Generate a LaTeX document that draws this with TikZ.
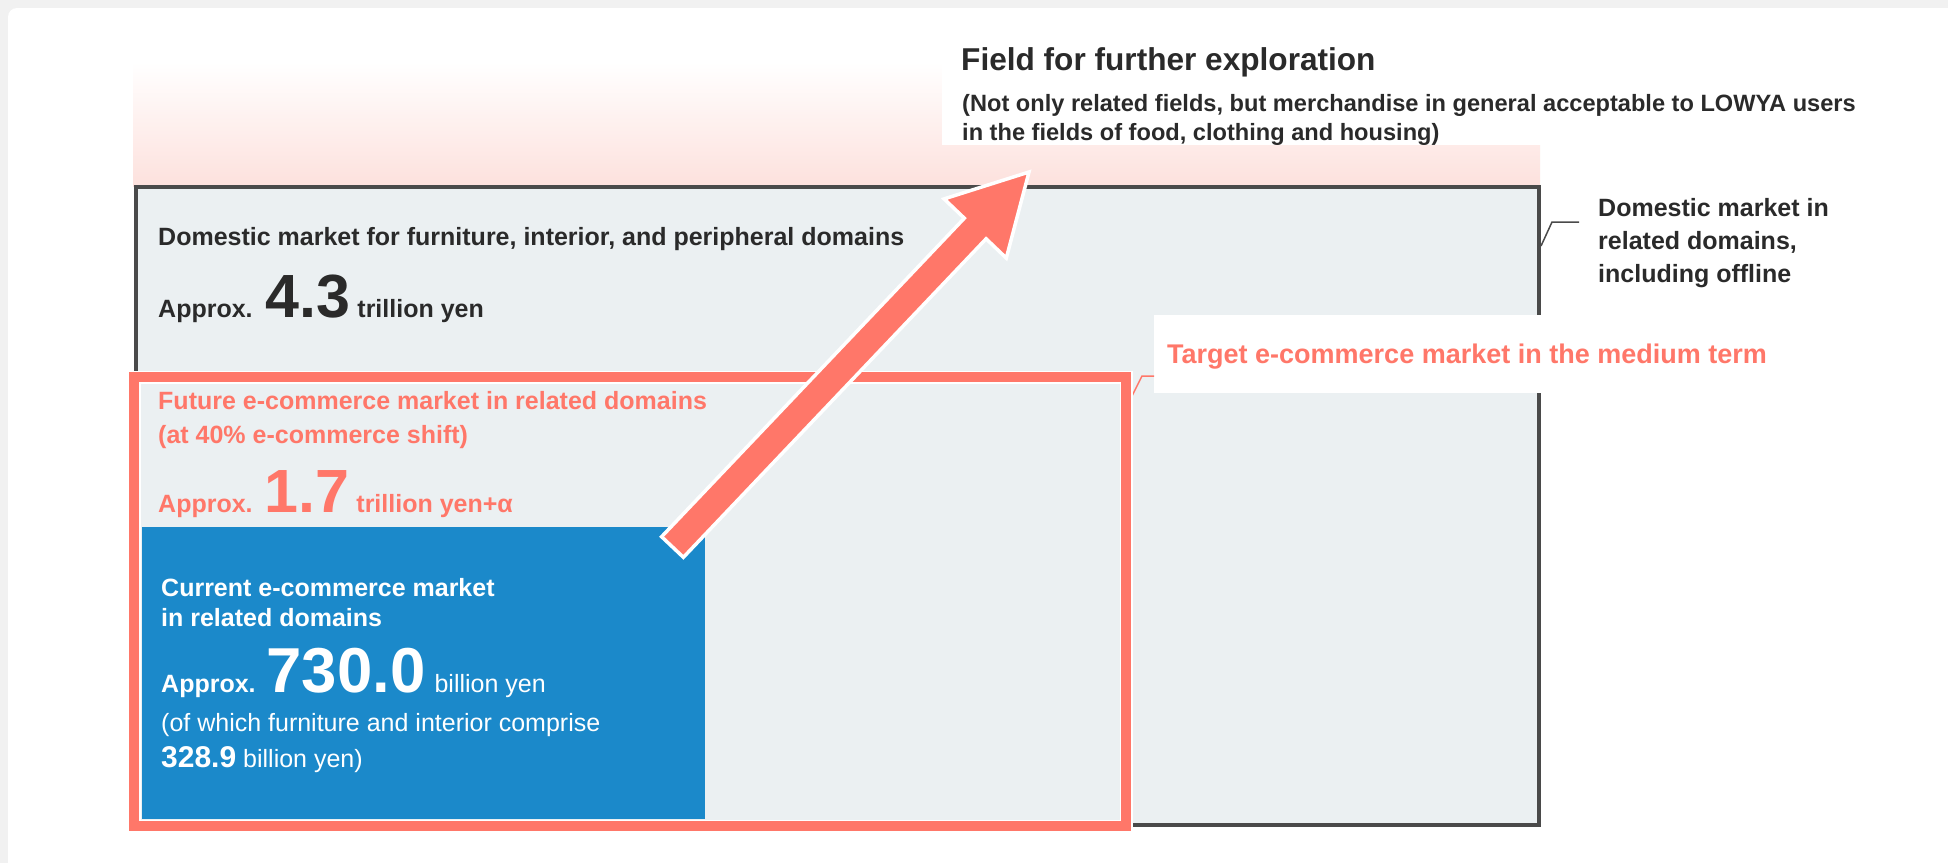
\documentclass[tikz,border=0pt]{standalone}
\usepackage{fontspec}
\setmainfont{Liberation Sans}
\definecolor{pagegray}{HTML}{F1F1F1}
\definecolor{ink}{HTML}{2A2A2A}
\definecolor{salmon}{HTML}{FF7769}
\definecolor{fieldpink}{HTML}{FDE1DD}
\definecolor{marketfill}{HTML}{EBF0F2}
\definecolor{marketline}{HTML}{4A4A4A}
\definecolor{ecblue}{HTML}{1B89CA}
\newcommand\fsz[1]{\fontsize{#1}{#1}\selectfont}
\begin{document}
\begin{tikzpicture}[x=1pt,y=-1pt,
  lbl/.style={inner sep=0pt, anchor=base west, text=ink, font=\bfseries\fsz{25}},
  redlbl/.style={lbl, text=salmon},
  whitelbl/.style={lbl, text=white},
  leader/.style={line width=1.5pt, line join=miter}]
\useasboundingbox (0,0) rectangle (1948,863);
% page and card
\fill[pagegray] (0,0) rectangle (1948,863);
\fill[white] (8,863) [rounded corners=9pt] -- (8,8) [sharp corners] -- (1948,8) -- (1948,863) -- cycle;

% field for further exploration (fading band)
\shade[top color=white, bottom color=fieldpink] (133,62) rectangle (1540,186);
\fill[white] (942,30) rectangle (1548,145);
\node[lbl, font=\bfseries\fsz{31.6}] (fieldtitle) at (961,70) {Field for further exploration};
\node[lbl, font=\bfseries\fsz{23.6}] (fieldsub1) at (962,111) {(Not only related fields, but merchandise in general acceptable to LOWYA users};
\node[lbl, font=\bfseries\fsz{23.6}] (fieldsub2) at (962,140) {in the fields of food, clothing and housing)};

% domestic market box
\draw[marketline, fill=marketfill, line width=4pt] (135.5,186.5) rectangle (1539,824.5);
\node[lbl] (domtitle) at (158,245) {Domestic market for furniture, interior, and peripheral domains};
\node[lbl] (domval) at (158,317) {Approx.\hspace{13pt}{\fsz{61}4.3}\hspace{7pt}trillion yen};

% side label for the domestic market
\node[lbl] (side1) at (1598,216) {Domestic market in};
\node[lbl] (side2) at (1598,249) {related domains,};
\node[lbl] (side3) at (1598,282) {including offline};
\coordinate (sidehook) at (1579,222);
\draw[leader, marketline] (sidehook) -- (1552,222) -- (1541,246);

% medium-term target label
\fill[white] (1154,315) rectangle (1542,393);
\node[redlbl, font=\bfseries\fsz{27}] (target) at (1167,363) {Target e-commerce market in the medium term};
\coordinate (targethook) at (1154,376);
\draw[leader, salmon] (targethook) -- (1142,376) -- (1132,396);

% medium-term target frame
\draw[white, line width=13pt] (134,377) rectangle (1126,826);
\draw[salmon, line width=10pt] (134,377) rectangle (1126,826);
\node[redlbl] (fut1) at (158,409) {Future e-commerce market in related domains};
\node[redlbl] (fut2) at (158,443) {(at 40\% e-commerce shift)};
\node[redlbl] (futval) at (158,512) {Approx.\hspace{12pt}{\fsz{61}1.7}\hspace{7pt}trillion yen+α};

% current e-commerce market
\fill[ecblue] (142,527) rectangle (705,819);
\node[whitelbl] (cur1) at (161,596) {Current e-commerce market};
\node[whitelbl] (cur2) at (161,626) {in related domains};
\node[whitelbl] (curval) at (161,692) {Approx.\hspace{11pt}{\fsz{63.5}730.0}\hspace{9pt}\mdseries billion yen};
\node[whitelbl, font=\fsz{25}] (cur3) at (161,731) {(of which furniture and interior comprise};
\node[whitelbl, font=\fsz{25}] (cur4) at (161,767) {{\bfseries\fsz{30}328.9} billion yen)};

% growth arrow
\coordinate (arrowtip) at (1029,172);
\fill[salmon, draw=white, line width=3.5pt, miter limit=3]
  (683.4,557.3) -- (661.6,536.7) -- (964.3,218.2) -- (944.1,198.9)
  -- (arrowtip) -- (1006.3,258.1) -- (986.1,238.8) -- cycle;
\end{tikzpicture}
\end{document}
